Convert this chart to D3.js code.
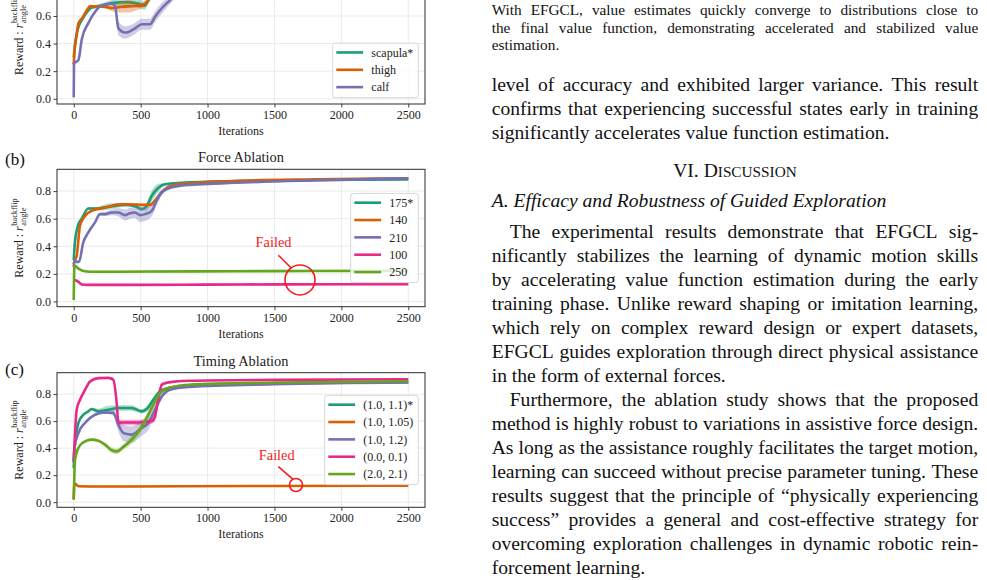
<!DOCTYPE html>
<html>
<head>
<meta charset="utf-8">
<script src="https://cdn.jsdelivr.net/npm/d3@7"></script>
<style>
  html, body { margin: 0; padding: 0; background: #fff; overflow: hidden; }
  svg { display: block; }
</style>
</head>
<body>
<svg id="page" width="987" height="580"></svg>
<script>
// ---- chart values ----
// each point: [iteration, mean reward, half width of shaded band]
const iterTicks = [0, 500, 1000, 1500, 2000, 2500];
const rewardTicks = [0, 0.2, 0.4, 0.6, 0.8];

const partLabels = ["scapula*", "thigh", "calf"];
const partScapula = [[0,0.30,0],[10,0.40,0.005],[35,0.52,0.01],[60,0.57,0.01],[100,0.63,0.01],[130,0.66,0.01],[180,0.67,0.015],[250,0.685,0.02],[300,0.695,0.025],[350,0.70,0.025],[400,0.70,0.025],[450,0.695,0.025],[500,0.685,0.03],[530,0.675,0.03],[560,0.72,0.03],[600,0.78,0.03],[650,0.83,0.02],[700,0.85,0.01],[800,0.865,0.005],[1000,0.872,0.004],[1500,0.88,0.003],[2000,0.885,0.003],[2500,0.888,0.003]];
const partThigh = [[0,0.25,0],[5,0.33,0.005],[20,0.45,0.01],[35,0.547,0.01],[60,0.58,0.01],[97,0.64,0.01],[122,0.67,0.01],[184,0.67,0.01],[240,0.665,0.01],[284,0.656,0.02],[350,0.665,0.04],[409,0.67,0.045],[470,0.672,0.03],[508,0.675,0.02],[545,0.70,0.02],[580,0.75,0.02],[620,0.80,0.015],[680,0.84,0.01],[800,0.86,0.005],[1000,0.872,0.004],[1500,0.882,0.003],[2000,0.888,0.003],[2500,0.892,0.003]];
const partCalf = [[0,0.01,0],[2,0.257,0.005],[35,0.28,0.01],[60,0.43,0.01],[110,0.55,0.01],[160,0.63,0.01],[197,0.67,0.01],[284,0.69,0.01],[309,0.67,0.02],[334,0.51,0.05],[384,0.48,0.045],[458,0.51,0.04],[508,0.54,0.04],[570,0.54,0.04],[608,0.595,0.04],[658,0.656,0.04],[720,0.716,0.03],[780,0.78,0.03],[850,0.83,0.02],[950,0.855,0.01],[1200,0.87,0.005],[1800,0.88,0.004],[2500,0.888,0.003]];

const forceLabels = ["175*", "140", "210", "100", "250"];
const force175 = [[0,0.30,0],[8,0.42,0.01],[35,0.56,0.01],[60,0.60,0.01],[109,0.674,0.01],[172,0.674,0.01],[222,0.68,0.02],[309,0.693,0.02],[383,0.70,0.01],[458,0.69,0.01],[510,0.67,0.015],[545,0.69,0.03],[583,0.765,0.04],[633,0.824,0.03],[682,0.849,0.01],[807,0.86,0.005],[1205,0.873,0.004],[1800,0.88,0.003],[2500,0.885,0.003]];
const force140 = [[0,0.27,0],[5,0.29,0.005],[22,0.33,0.01],[47,0.55,0.01],[84,0.62,0.01],[134,0.657,0.01],[234,0.68,0.01],[358,0.705,0.01],[450,0.703,0.01],[508,0.70,0.01],[570,0.70,0.01],[607,0.73,0.02],[657,0.79,0.02],[707,0.83,0.01],[782,0.85,0.005],[1205,0.873,0.004],[1800,0.885,0.003],[2500,0.893,0.003]];
const force210 = [[0,0.25,0],[5,0.30,0.005],[22,0.286,0.01],[40,0.29,0.01],[72,0.43,0.01],[109,0.50,0.01],[159,0.573,0.01],[196,0.633,0.01],[234,0.633,0.015],[284,0.645,0.02],[334,0.645,0.03],[383,0.626,0.04],[420,0.64,0.04],[458,0.645,0.04],[495,0.626,0.05],[533,0.633,0.05],[583,0.657,0.04],[620,0.73,0.03],[657,0.79,0.02],[720,0.824,0.01],[807,0.84,0.005],[1205,0.86,0.004],[1800,0.878,0.003],[2500,0.893,0.003]];
const force100 = [[3,0.15,0.006],[10,0.154,0.008],[35,0.142,0.008],[60,0.123,0.008],[95,0.12,0.008],[500,0.12,0.008],[1000,0.122,0.008],[1500,0.124,0.008],[2000,0.125,0.008],[2500,0.125,0.008]];
const force250 = [[0,0.01,0],[5,0.26,0.005],[35,0.238,0.008],[84,0.219,0.008],[160,0.215,0.008],[600,0.217,0.008],[1200,0.219,0.008],[1800,0.221,0.008],[2500,0.222,0.008]];

const timingLabels = ["(1.0, 1.1)*", "(1.0, 1.05)", "(1.0, 1.2)", "(0.0, 0.1)", "(2.0, 2.1)"];
const timing11 = [[0,0.25,0],[5,0.39,0.005],[35,0.586,0.01],[72,0.647,0.01],[109,0.672,0.01],[134,0.689,0.01],[184,0.672,0.02],[259,0.684,0.03],[334,0.697,0.02],[433,0.697,0.02],[508,0.672,0.015],[545,0.689,0.02],[595,0.758,0.02],[645,0.82,0.015],[707,0.844,0.01],[857,0.861,0.005],[1500,0.878,0.004],[2500,0.888,0.003]];
const timing105 = [[0,0.02,0],[5,0.14,0.006],[35,0.118,0.006],[200,0.116,0.006],[800,0.118,0.006],[1500,0.12,0.006],[2500,0.122,0.006]];
const timing12 = [[0,0.30,0],[5,0.40,0.005],[35,0.512,0.01],[84,0.586,0.01],[122,0.623,0.01],[159,0.647,0.01],[234,0.664,0.01],[296,0.66,0.02],[334,0.573,0.05],[371,0.512,0.06],[433,0.50,0.06],[508,0.549,0.06],[558,0.586,0.05],[607,0.684,0.04],[658,0.782,0.02],[720,0.832,0.01],[857,0.852,0.005],[1500,0.872,0.004],[2500,0.885,0.003]];
const timing01 = [[0,0.30,0],[5,0.41,0.005],[22,0.684,0.01],[47,0.758,0.01],[84,0.83,0.01],[122,0.893,0.01],[184,0.918,0.005],[259,0.92,0.005],[296,0.905,0.02],[321,0.733,0.04],[334,0.586,0.02],[359,0.59,0.02],[483,0.59,0.02],[583,0.60,0.02],[607,0.635,0.04],[633,0.77,0.05],[658,0.869,0.02],[707,0.886,0.01],[857,0.898,0.005],[1500,0.905,0.004],[2500,0.91,0.003]];
const timing21 = [[0,0.02,0],[10,0.315,0.005],[35,0.40,0.01],[72,0.443,0.01],[134,0.463,0.01],[184,0.455,0.01],[234,0.426,0.015],[284,0.384,0.02],[321,0.376,0.02],[371,0.409,0.02],[433,0.463,0.03],[495,0.537,0.03],[545,0.623,0.03],[595,0.721,0.03],[645,0.807,0.02],[707,0.844,0.01],[857,0.869,0.005],[1500,0.885,0.004],[2500,0.895,0.003]];

// "Failed" call-outs: text at [iter, reward], pointer from/to, circle centre
const forceFailed = { text: [1493, 0.395], from: [1529, 0.335], to: [1629, 0.239], ring: [1691, 0.156], r: 15 };
const timingFailed = { text: [1517, 0.313], from: [1529, 0.263], to: [1637, 0.170], ring: [1661, 0.127], r: 6.5 };

// ---- text column ----
const captionLines = [
  "With EFGCL, value estimates quickly converge to distributions close to",
  "the final value function, demonstrating accelerated and stabilized value",
  "estimation."
];
const bodyLines = [
  "level of accuracy and exhibited larger variance. This result",
  "confirms that experiencing successful states early in training",
  "significantly accelerates value function estimation."
];
const para1 = [
  "The experimental results demonstrate that EFGCL sig-",
  "nificantly stabilizes the learning of dynamic motion skills",
  "by accelerating value function estimation during the early",
  "training phase. Unlike reward shaping or imitation learning,",
  "which rely on complex reward design or expert datasets,",
  "EFGCL guides exploration through direct physical assistance",
  "in the form of external forces."
];
const para2 = [
  "Furthermore, the ablation study shows that the proposed",
  "method is highly robust to variations in assistive force design.",
  "As long as the assistance roughly facilitates the target motion,",
  "learning can succeed without precise parameter tuning. These",
  "results suggest that the principle of \u201cphysically experiencing",
  "success\u201d provides a general and cost-effective strategy for",
  "overcoming exploration challenges in dynamic robotic rein-",
  "forcement learning."
];

// ---- drawing ----
const SERIF = '"Liberation Serif", "Times New Roman", "DejaVu Serif", serif';
const COLORS = ["#1b9e77", "#d95f02", "#7570b3", "#e7298a", "#66a61e"];
const FRAME = "#2b2b2b";
const GRID = "#e6e6e6";

const svg = d3.select("#page").style("font-family", SERIF);

const panels = [
  { id: "a", top: -33.4, bottom: 104, labels: partLabels,
    series: [partScapula, partThigh, partCalf], legend: "lower" },
  { id: "b", top: 169.3, bottom: 306.7, labels: forceLabels, title: "Force Ablation",
    tag: "(b)", tagY: 165, series: [force175, force140, force210, force100, force250],
    legend: "center", failed: forceFailed },
  { id: "c", top: 372.7, bottom: 507.3, labels: timingLabels, title: "Timing Ablation",
    tag: "(c)", tagY: 375, series: [timing11, timing105, timing12, timing01, timing21],
    legend: "center", failed: timingFailed }
];

const LEFT = 57, RIGHT = 425;

panels.forEach(p => {
  const x = d3.scaleLinear().domain([-125, 2625]).range([LEFT, RIGHT]);
  const y = d3.scaleLinear().domain([-0.038, 0.958]).range([p.bottom, p.top]);
  const g = svg.append("g");

  // grid
  g.append("g").selectAll("line").data(iterTicks).join("line")
    .attr("x1", d => x(d)).attr("x2", d => x(d))
    .attr("y1", p.top).attr("y2", p.bottom)
    .attr("stroke", GRID).attr("stroke-width", 0.8);
  g.append("g").selectAll("line").data(rewardTicks).join("line")
    .attr("x1", LEFT).attr("x2", RIGHT)
    .attr("y1", d => y(d)).attr("y2", d => y(d))
    .attr("stroke", GRID).attr("stroke-width", 0.8);

  // series
  svg.append("clipPath").attr("id", "clip-" + p.id)
    .append("rect").attr("x", LEFT).attr("y", p.top)
    .attr("width", RIGHT - LEFT).attr("height", p.bottom - p.top);
  const plot = g.append("g").attr("clip-path", `url(#clip-${p.id})`);

  const band = d3.area()
    .x(d => x(d[0])).y0(d => y(d[1] - d[2])).y1(d => y(d[1] + d[2]))
    .curve(d3.curveMonotoneX);
  const line = d3.line()
    .x(d => x(d[0])).y(d => y(d[1]))
    .curve(d3.curveMonotoneX);

  p.series.forEach((s, i) => {
    plot.append("path").attr("d", band(s))
      .attr("fill", COLORS[i]).attr("fill-opacity", 0.35);
    plot.append("path").attr("d", line(s))
      .attr("fill", "none").attr("stroke", COLORS[i])
      .attr("stroke-width", 2.6).attr("stroke-linejoin", "round");
  });

  // axes
  const xAxis = g.append("g").attr("transform", `translate(0,${p.bottom})`)
    .call(d3.axisBottom(x).tickValues(iterTicks).tickFormat(d3.format("d"))
      .tickSize(3.5).tickPadding(3));
  const yAxis = g.append("g").attr("transform", `translate(${LEFT},0)`)
    .call(d3.axisLeft(y).tickValues(rewardTicks).tickFormat(d3.format(".1f"))
      .tickSize(3.5).tickPadding(2.5));
  [xAxis, yAxis].forEach(a => {
    a.select(".domain").remove();
    a.selectAll("line").attr("stroke", FRAME).attr("stroke-width", 0.9);
    a.selectAll("text").attr("fill", "#222").style("font-size", "12px")
      .style("font-family", SERIF);
  });

  g.append("rect").attr("x", LEFT).attr("y", p.top)
    .attr("width", RIGHT - LEFT).attr("height", p.bottom - p.top)
    .attr("fill", "none").attr("stroke", FRAME).attr("stroke-width", 1);

  g.append("text").attr("x", (LEFT + RIGHT) / 2).attr("y", p.bottom + 31)
    .attr("text-anchor", "middle").attr("fill", "#222")
    .style("font-size", "12px").text("Iterations");

  if (p.title) {
    g.append("text").attr("x", (LEFT + RIGHT) / 2).attr("y", p.top - 7)
      .attr("text-anchor", "middle").attr("fill", "#222")
      .style("font-size", "14.4px").text(p.title);
  }
  if (p.tag) {
    g.append("text").attr("x", 5).attr("y", p.tagY).attr("fill", "#111")
      .style("font-size", "17px").text(p.tag);
  }

  // y label: Reward : r_angle^backflip
  const lab = g.append("g")
    .attr("transform", `translate(23,${(p.top + p.bottom) / 2}) rotate(-90)`);
  const inner = lab.append("g");
  const main = inner.append("text").attr("fill", "#222").style("font-size", "12px");
  main.append("tspan").text("Reward : ");
  main.append("tspan").style("font-style", "italic").text("r");
  const wMain = main.node().getComputedTextLength();
  const sup = inner.append("text").attr("x", wMain + 0.6).attr("y", -6.5)
    .attr("fill", "#222").style("font-size", "8.4px").text("backflip");
  const sub = inner.append("text").attr("x", wMain + 0.6).attr("y", 2.8)
    .attr("fill", "#222").style("font-size", "8.4px").text("angle");
  const total = wMain + 0.6 + Math.max(sup.node().getComputedTextLength(), sub.node().getComputedTextLength());
  inner.attr("transform", `translate(${-total / 2},0)`);

  // legend
  const rowH = 17.35;
  const leg = g.append("g");
  const box = leg.append("rect");
  const items = p.labels.map((lbl, i) => {
    const row = leg.append("g").attr("transform", `translate(0,${9.3 + i * rowH})`);
    row.append("line").attr("x1", 3.6).attr("x2", 30.4)
      .attr("stroke", COLORS[i]).attr("stroke-width", 2.6);
    return row.append("text").attr("x", 38.6).attr("y", 4.2).attr("fill", "#222")
      .style("font-size", "12px").text(lbl);
  });
  const tw = d3.max(items, t => t.node().getComputedTextLength());
  const lw = 38.6 + tw + 5;
  const lh = p.labels.length * rowH + 2.5;
  box.attr("width", lw).attr("height", lh).attr("rx", 2.5)
    .attr("fill", "#fff").attr("fill-opacity", 0.8)
    .attr("stroke", "#d3d3d3").attr("stroke-width", 0.9);
  const legX = 418.3 - lw;
  const legY = p.legend === "lower" ? p.bottom - 6.3 - lh : (p.top + p.bottom) / 2 - lh / 2;
  leg.attr("transform", `translate(${legX},${legY})`);

  // failed call-out
  if (p.failed) {
    const f = p.failed;
    g.append("text").attr("x", x(f.text[0])).attr("y", y(f.text[1]))
      .attr("text-anchor", "middle").attr("fill", "#f21d1d")
      .style("font-size", "14.4px").text("Failed");
    g.append("line").attr("x1", x(f.from[0])).attr("y1", y(f.from[1]))
      .attr("x2", x(f.to[0])).attr("y2", y(f.to[1]))
      .attr("stroke", "#f21d1d").attr("stroke-width", 1.6);
    g.append("circle").attr("cx", x(f.ring[0])).attr("cy", y(f.ring[1])).attr("r", f.r)
      .attr("fill", "none").attr("stroke", "#f21d1d").attr("stroke-width", 1.6);
  }
});

// ---- right text column ----
const COL_L = 491.7, COL_W = 486.5;

function setLine(str, baseline, size, justify, indent = 0, italic = false) {
  const words = str.split(" ");
  const t = svg.append("text").attr("y", baseline).attr("fill", "#111")
    .style("font-size", size + "px").style("font-style", italic ? "italic" : "normal");
  const spans = words.map(w => t.append("tspan").text(w));
  const widths = spans.map(s => s.node().getComputedTextLength());
  const sum = d3.sum(widths);
  const gap = justify && words.length > 1
    ? (COL_W - indent - sum) / (words.length - 1)
    : size * 0.25;
  let cx = COL_L + indent;
  spans.forEach((s, i) => { s.attr("x", cx); cx += widths[i] + gap; });
}

const CAP = 15.3, BODY = 19.6, LEAD = 24;
captionLines.forEach((l, i) => setLine(l, 15 + i * 17.6, CAP, i < captionLines.length - 1));
bodyLines.forEach((l, i) => setLine(l, 90.8 + i * LEAD, BODY, i < bodyLines.length - 1));

const head = svg.append("text").attr("x", COL_L + COL_W / 2).attr("y", 176.7)
  .attr("text-anchor", "middle").attr("fill", "#111").style("font-size", BODY + "px");
head.append("tspan").text("VI. D");
head.append("tspan").style("font-size", (BODY * 0.78) + "px").text("ISCUSSION");

setLine("A. Efficacy and Robustness of Guided Exploration", 206.7, BODY, false, 0, true);

para1.forEach((l, i) => setLine(l, 238.3 + i * LEAD, BODY, i < para1.length - 1, i === 0 ? 18 : 0));
para2.forEach((l, i) => setLine(l, 238.3 + (para1.length + i) * LEAD, BODY, i < para2.length - 1, i === 0 ? 18 : 0));
</script>
</body>
</html>
